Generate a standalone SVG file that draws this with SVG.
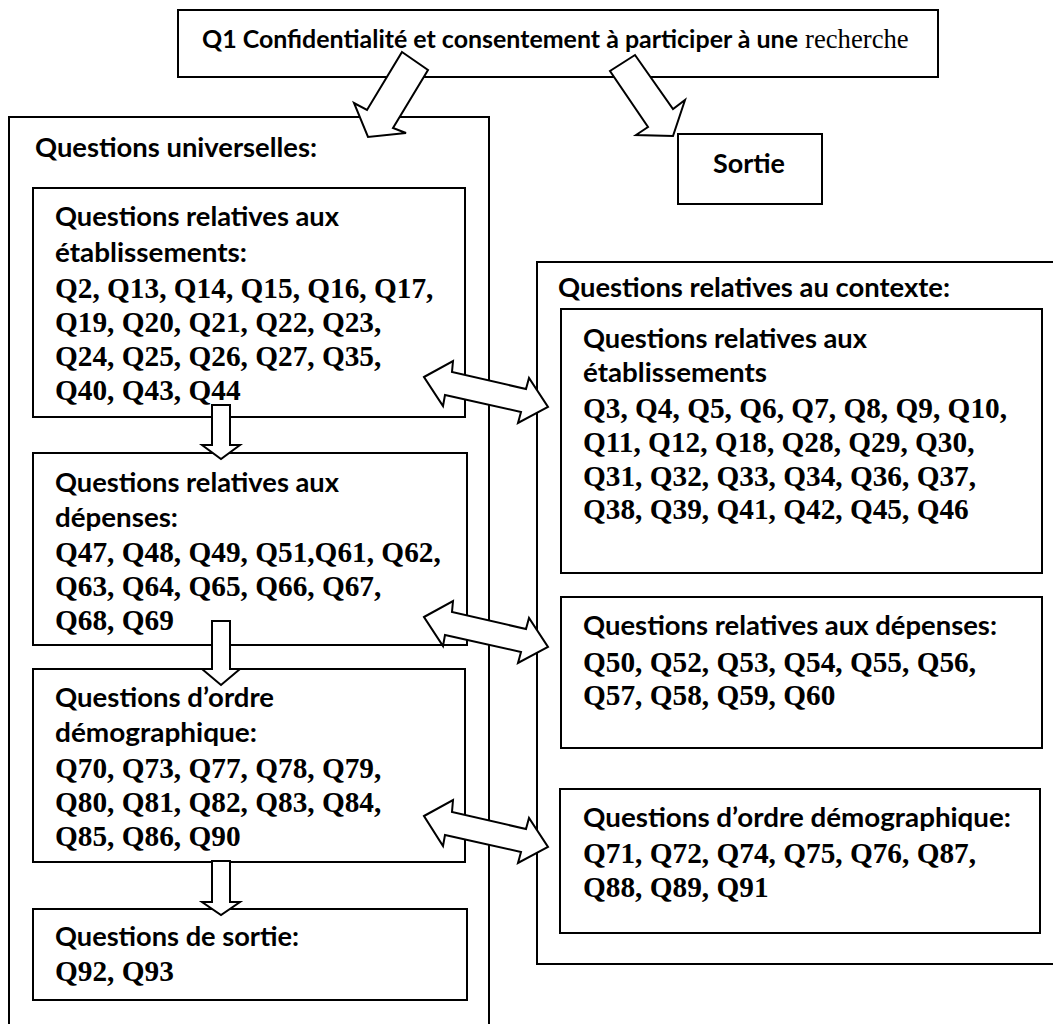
<svg xmlns="http://www.w3.org/2000/svg" width="1053" height="1024" viewBox="0 0 1053 1024">
<style>
.box{fill:#fff;stroke:#000;stroke-width:2}
.arw{fill:#fff;stroke:#000;stroke-width:2;stroke-linejoin:miter}
.c{font-family:Lato,"Open Sans","Liberation Sans",sans-serif;font-weight:bold;font-size:27px;fill:#000}
.t{font-family:"Liberation Serif","Times New Roman",serif;font-weight:bold;font-size:29.3px;fill:#000}
.tr{font-family:"Liberation Serif","Times New Roman",serif;font-weight:normal;font-size:26.7px;fill:#000}
</style>
<rect width="1053" height="1024" fill="#fff"/>
<g id="top">
<rect class="box" x="178" y="10" width="760" height="67"/>
<text class="c" x="202" y="48" style="font-size:24.5px" textLength="596" lengthAdjust="spacingAndGlyphs">Q1 Confidentialité et consentement à participer à une</text>
<text class="tr" x="805" y="48">recherche</text>
</g>
<g id="universelles">
<rect class="box" x="9" y="117" width="480" height="920"/>
<text class="c" x="35" y="157" textLength="282" lengthAdjust="spacingAndGlyphs">Questions universelles:</text>
</g>
<g id="sortie">
<rect class="box" x="678" y="134" width="144" height="70"/>
<text class="c" x="713" y="173" textLength="72" lengthAdjust="spacingAndGlyphs">Sortie</text>
</g>
<g id="u-etab">
<rect class="box" x="33" y="188" width="432" height="229"/>
<text class="c" x="55" y="226" textLength="284" lengthAdjust="spacingAndGlyphs">Questions relatives aux</text>
<text class="c" x="55" y="262" textLength="192" lengthAdjust="spacingAndGlyphs">établissements:</text>
<text class="t" x="55" y="298">Q2, Q13, Q14, Q15, Q16, Q17,</text>
<text class="t" x="55" y="332">Q19, Q20, Q21, Q22, Q23,</text>
<text class="t" x="55" y="366">Q24, Q25, Q26, Q27, Q35,</text>
<text class="t" x="55" y="400">Q40, Q43, Q44</text>
</g>
<g id="u-dep">
<rect class="box" x="33" y="453" width="434" height="192"/>
<text class="c" x="55" y="492" textLength="284" lengthAdjust="spacingAndGlyphs">Questions relatives aux</text>
<text class="c" x="55" y="527" textLength="123" lengthAdjust="spacingAndGlyphs">dépenses:</text>
<text class="t" x="55" y="562">Q47, Q48, Q49, Q51,Q61, Q62,</text>
<text class="t" x="55" y="596">Q63, Q64, Q65, Q66, Q67,</text>
<text class="t" x="55" y="630">Q68, Q69</text>
</g>
<g id="u-demo">
<rect class="box" x="33" y="669" width="432" height="193"/>
<text class="c" x="55" y="707" textLength="219" lengthAdjust="spacingAndGlyphs">Questions d’ordre</text>
<text class="c" x="55" y="742" textLength="202" lengthAdjust="spacingAndGlyphs">démographique:</text>
<text class="t" x="55" y="778">Q70, Q73, Q77, Q78, Q79,</text>
<text class="t" x="55" y="812">Q80, Q81, Q82, Q83, Q84,</text>
<text class="t" x="55" y="846">Q85, Q86, Q90</text>
</g>
<g id="u-sortie">
<rect class="box" x="33" y="909" width="434" height="91"/>
<text class="c" x="55" y="946" textLength="244" lengthAdjust="spacingAndGlyphs">Questions de sortie:</text>
<text class="t" x="55" y="981">Q92, Q93</text>
</g>
<g id="contexte">
<rect class="box" x="537" y="262" width="530" height="702"/>
<text class="c" x="558" y="297" textLength="392" lengthAdjust="spacingAndGlyphs">Questions relatives au contexte:</text>
</g>
<g id="c-etab">
<rect class="box" x="561" y="309" width="481" height="264"/>
<text class="c" x="583" y="348" textLength="284" lengthAdjust="spacingAndGlyphs">Questions relatives aux</text>
<text class="c" x="583" y="382" textLength="184" lengthAdjust="spacingAndGlyphs">établissements</text>
<text class="t" x="583" y="418">Q3, Q4, Q5, Q6, Q7, Q8, Q9, Q10,</text>
<text class="t" x="583" y="452">Q11, Q12, Q18, Q28, Q29, Q30,</text>
<text class="t" x="583" y="486">Q31, Q32, Q33, Q34, Q36, Q37,</text>
<text class="t" x="583" y="519">Q38, Q39, Q41, Q42, Q45, Q46</text>
</g>
<g id="c-dep">
<rect class="box" x="561" y="597" width="481" height="151"/>
<text class="c" x="583" y="635" textLength="414" lengthAdjust="spacingAndGlyphs">Questions relatives aux dépenses:</text>
<text class="t" x="583" y="672">Q50, Q52, Q53, Q54, Q55, Q56,</text>
<text class="t" x="583" y="705">Q57, Q58, Q59, Q60</text>
</g>
<g id="c-demo">
<rect class="box" x="560" y="789" width="480" height="144"/>
<text class="c" x="583" y="827" textLength="428" lengthAdjust="spacingAndGlyphs">Questions d’ordre démographique:</text>
<text class="t" x="583" y="863">Q71, Q72, Q74, Q75, Q76, Q87,</text>
<text class="t" x="583" y="897">Q88, Q89, Q91</text>
</g>
<g id="connectors">
<polygon class="arw" points="402,52 428,70 393,128 406,133 368,137 354,103 367,110"/>
<polygon class="arw" points="635,55 673,109 685,100 673,136 636,135 648,127 610,71"/>
<polygon class="arw" points="212,405 230,405 230,445 240,445 221,459 202,445 212,445"/>
<polygon class="arw" points="212,621 230,621 230,669 240,669 221,685 202,669 212,669"/>
<polygon class="arw" points="212,861 230,861 230,902 240,902 221,915 202,902 212,902"/>
<polygon class="arw" points="424,377 453,361 452,372 526,389 529,378 548,407 518,423 521,412 445,395 443,406"/>
<polygon class="arw" points="424,617 453,601 452,612 526,629 529,618 548,647 518,663 521,652 445,635 443,646"/>
<polygon class="arw" points="424,816 453,800 452,812 526,829 529,818 548,847 518,863 521,852 445,835 443,846"/>
</g>
</svg>
